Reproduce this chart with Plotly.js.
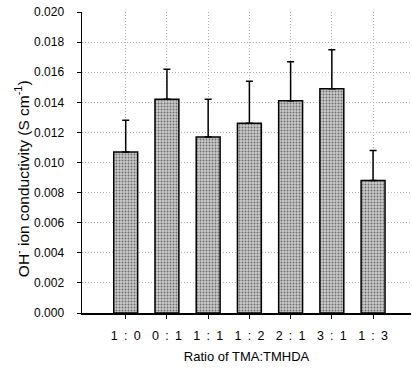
<!DOCTYPE html>
<html>
<head>
<meta charset="utf-8">
<script src="https://cdn.plot.ly/plotly-3.0.1.min.js"></script>
<style>html,body{margin:0;padding:0;background:#fff;}#chart{width:412px;height:370px;}</style>
</head>
<body>
<div id="chart"></div>
<script>
var categories = ["1\u2002:\u20020", "0\u2002:\u20021", "1\u2002:\u20021", "1\u2002:\u20022", "2\u2002:\u20021", "3\u2002:\u20021", "1\u2002:\u20023"];
var conductivity = [0.0107, 0.0142, 0.0117, 0.0126, 0.0141, 0.0149, 0.0088];
var errorUpper = [0.0021, 0.0020, 0.0025, 0.0028, 0.0026, 0.0026, 0.0020];
var yTicks = [0, 0.002, 0.004, 0.006, 0.008, 0.010, 0.012, 0.014, 0.016, 0.018, 0.020];
var yTitle = "OH<sup>-</sup> ion conductivity (S cm<sup>-1</sup>)";
var xTitle = "Ratio of TMA:TMHDA";

var trace = {
  type: "bar",
  x: categories,
  y: conductivity,
  width: 0.58,
  marker: {
    color: "#bdbdbd",
    line: {color: "#000", width: 1.5},
    pattern: {shape: ".", fgcolor: "#6e6e6e", bgcolor: "#cccccc", size: 3, solidity: 0.35}
  },
  error_y: {
    type: "data",
    symmetric: false,
    array: errorUpper,
    arrayminus: errorUpper.map(function(){return 0;}),
    color: "#000",
    thickness: 1.5,
    width: 3.5
  },
  hoverinfo: "none"
};

var font = {family: "Liberation Sans, Arial, sans-serif", color: "#000"};

var layout = {
  width: 412,
  height: 370,
  margin: {l: 82, r: 1, t: 12, b: 57},
  paper_bgcolor: "#fff",
  plot_bgcolor: "#fff",
  showlegend: false,
  font: font,
  xaxis: {
    type: "category",
    range: [-1.06, 6.92],
    showline: true,
    linecolor: "#000",
    linewidth: 1.5,
    ticks: "outside",
    ticklen: 4,
    tickcolor: "#000",
    ticklabelstandoff: 6,
    showgrid: true,
    gridcolor: "#b0b0b0",
    griddash: "1px,2px",
    gridwidth: 1,
    tickfont: {family: font.family, size: 12.5, color: "#000"},
    title: {text: xTitle, font: {family: font.family, size: 13, color: "#000"}, standoff: 10},
    fixedrange: true,
    zeroline: false
  },
  yaxis: {
    range: [0, 0.020],
    tickvals: yTicks,
    tickformat: ".3f",
    showline: true,
    linecolor: "#000",
    linewidth: 1.5,
    ticks: "outside",
    ticklen: 4,
    tickcolor: "#000",
    ticklabelstandoff: 10,
    showgrid: true,
    gridcolor: "#b0b0b0",
    griddash: "1px,2px",
    gridwidth: 1,
    zeroline: false,
    tickfont: {family: font.family, size: 12, color: "#000"},
    fixedrange: true
  },
  annotations: [{
    text: yTitle,
    xref: "paper", yref: "paper",
    x: -0.182, y: 0.445,
    xanchor: "center", yanchor: "middle",
    textangle: -90,
    showarrow: false,
    font: {family: font.family, size: 15.5, color: "#000"}
  }]
};

Plotly.newPlot("chart", [trace], layout, {displayModeBar: false, staticPlot: true});
</script>
</body>
</html>
